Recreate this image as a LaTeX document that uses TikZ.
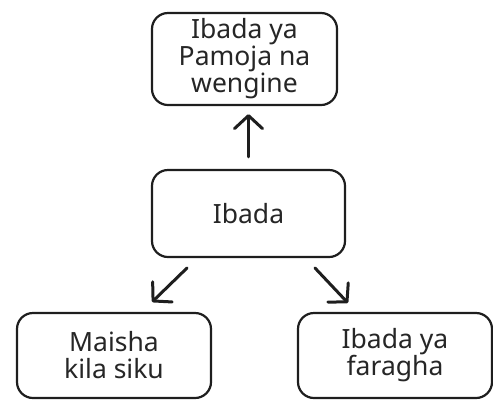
\documentclass[tikz,border=0pt]{standalone}
\usepackage{fontspec}
\setmainfont{Noto Sans}
\usetikzlibrary{arrows.meta}
\definecolor{ink}{HTML}{1E1E1E}
\definecolor{txt}{HTML}{262626}
\begin{document}
\begin{tikzpicture}[x=1bp,y=-1bp,
  box/.style={draw=ink, line width=2.2bp, rounded corners=16bp, align=center,
    text=txt, font=\fontsize{26.5bp}{27bp}\selectfont, inner sep=0pt},
  arr/.style={draw=ink, line width=3bp, line cap=round,
    -{Straight Barb[length=13bp,width=28bp,line width=3bp,round]}}]
\useasboundingbox (0,0) rectangle (493,399);
\node[box, minimum width=185bp, minimum height=92bp] (top) at (244.5,59) {Ibada ya\\Pamoja na\\wengine};
\node[box, minimum width=193bp, minimum height=87bp] (mid) at (248.5,213.5) {Ibada};
\node[box, minimum width=194bp, minimum height=85bp] (bl) at (114,355.5) {Maisha\\kila siku};
\node[box, minimum width=194bp, minimum height=85bp] (br) at (395,355.5) {Ibada ya\\faragha};
\coordinate (l0) at (187,268);
\coordinate (l1) at (152,302);
\coordinate (r0) at (315,268);
\coordinate (r1) at (348,303);
\draw[arr, shorten <=12bp, shorten >=8bp] (mid.north) -- (mid.north |- top.south);
\draw[arr] (l0) -- (l1);
\draw[arr] (r0) -- (r1);
\end{tikzpicture}
\end{document}
